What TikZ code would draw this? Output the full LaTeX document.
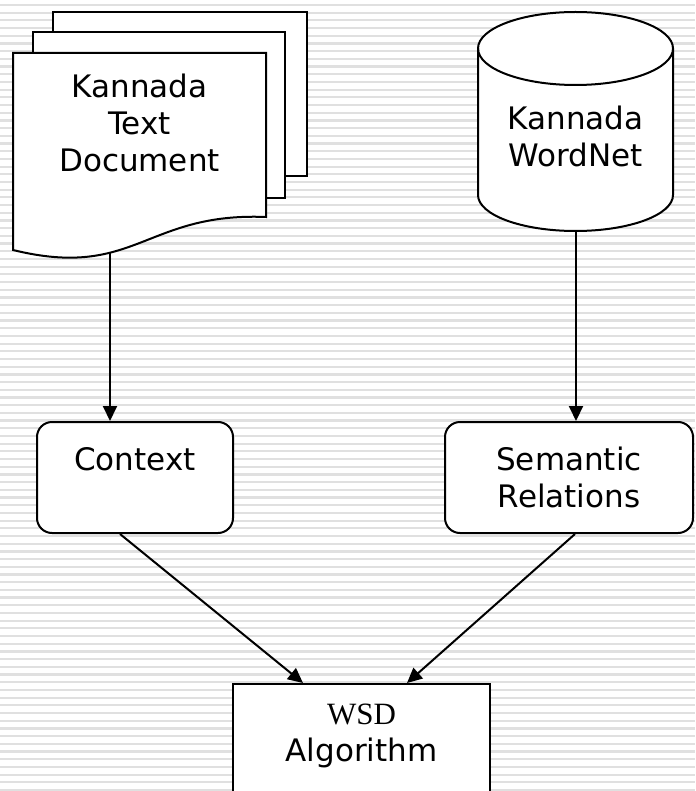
\documentclass[tikz,border=0pt]{standalone}
\usepackage{fontspec}
\setmainfont{DejaVu Sans}
\newfontfamily\wsdserif{Liberation Serif}
\usepackage{tikz}
\usetikzlibrary{arrows.meta,calc,positioning}
\definecolor{stripegray}{RGB}{224,224,224}
\newcommand{\backpage}[4]{%
  \filldraw[fill=white] (#1,#2) rectangle (#3,#4);%
}

\begin{document}
\begin{tikzpicture}[x=1pt,y=-1pt,line width=2pt,
  bigtext/.style={font=\fontsize{31}{37}\selectfont,align=center},
  flowbox/.style={bigtext,draw,fill=white,rounded corners=15pt,minimum height=111pt},
  algobox/.style={bigtext,draw,fill=white,anchor=north,minimum width=257pt,inner ysep=20pt},
  conn/.style={-{Triangle[length=15pt,width=14pt]},line width=2pt}]
  \useasboundingbox (0,0) rectangle (695,791);
  \clip (0,0) rectangle (695,791);
  % lined background
  \foreach \k in {0,...,102}
    \draw[stripegray,line width=2.2pt] (0,{5+7.696*\k}) -- (695,{5+7.696*\k});
  % document stack
  \backpage{53}{12}{307}{176}
  \backpage{33}{32}{285}{198}
  \filldraw[fill=white] (13,53) -- (266,53) -- (266,217)
    .. controls (145,212) and (135,280) .. (13,250) -- cycle;
  \node[bigtext] (doc) at (139.5,123) {Kannada\\Text\\Document};
  \coordinate (docout) at (110,253);
  % wordnet cylinder
  \filldraw[fill=white] (478,48.5) -- (478,195)
    arc[start angle=180,end angle=360,x radius=97.5pt,y radius=36pt]
    -- (673,48.5)
    arc[start angle=0,end angle=180,x radius=97.5pt,y radius=36.5pt];
  \draw (478,48.5) arc[start angle=180,end angle=360,x radius=97.5pt,y radius=36.5pt];
  \node[bigtext] (wn) at (575.5,136.5) {Kannada\\WordNet};
  \coordinate (wnout) at (576,231);
  % process boxes
  \node[flowbox,minimum width=196pt] (ctx) at (135,477.5) {Context\rule[-37pt]{0pt}{0pt}};
  \node[flowbox,minimum width=248pt] (sem) at (569,477.5) {Semantic\\Relations};
  \node[algobox] (wsd) at (361.5,683) {{\wsdserif WSD}\\Algorithm\rule[-40pt]{0pt}{0pt}};
  % connectors
  \draw[conn] (docout) -- (docout |- ctx.north);
  \draw[conn] (wnout) -- (wnout |- sem.north);
  \draw[conn] ([xshift=-15pt]ctx.south) -- ([xshift=-58.5pt]wsd.north);
  \draw[conn] ([xshift=6pt]sem.south) -- ([xshift=45.5pt]wsd.north);
\end{tikzpicture}
\end{document}
